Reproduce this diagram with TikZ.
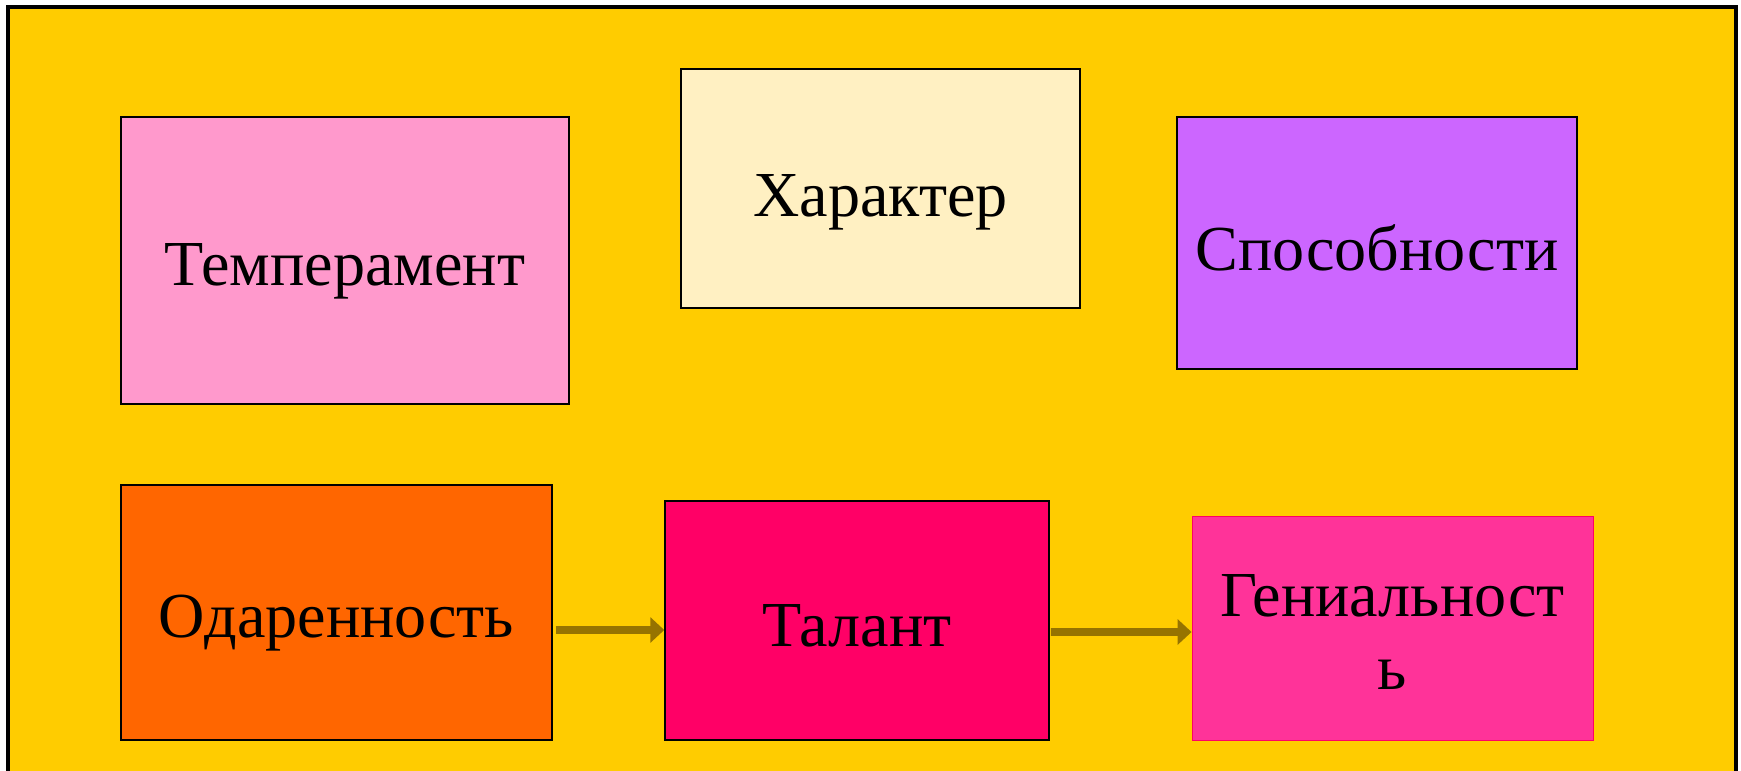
\documentclass[tikz,border=0pt]{standalone}
\usepackage{fontspec}
\setmainfont{Liberation Serif}
\usetikzlibrary{arrows.meta}
\definecolor{bgyellow}{HTML}{FFCC00}
\definecolor{temppink}{HTML}{FF99CC}
\definecolor{charcream}{HTML}{FFF0C2}
\definecolor{sposviolet}{HTML}{CC66FF}
\definecolor{odarorange}{HTML}{FF6600}
\definecolor{talantred}{HTML}{FF0066}
\definecolor{genpink}{HTML}{FF3399}
\definecolor{arrowolive}{HTML}{967300}
\begin{document}
\begin{tikzpicture}[every label/.append style={font=\fontsize{36.5}{41}\selectfont, align=center},
    box/.style={rectangle, draw=black, line width=0.85pt, inner sep=0pt},
    arr/.style={draw=arrowolive, line width=4.5pt, -{Triangle[length=0.28cm, width=0.5cm]}}]

    \useasboundingbox (0,0) rectangle (34.82,-15.42);
    \fill[bgyellow] (0.16,-0.14) rectangle (34.72,-16);
    \draw[line width=1.8pt] (0.16,-16) -- (0.16,-0.14) -- (34.72,-0.14) -- (34.72,-16);

    \node(box-temp)[box, fill=temppink, minimum width=8.96cm, minimum height=5.74cm,
      label={[yshift=-0.22cm]center:Темперамент}] at (6.90,-5.21) {};
    \node(box-char)[box, fill=charcream, minimum width=7.98cm, minimum height=4.78cm,
      label={[yshift=-0.27cm]center:Характер}] at (17.61,-3.77) {};
    \node(box-spos)[box, fill=sposviolet, minimum width=8.00cm, minimum height=5.04cm,
      label={[yshift=-0.09cm]center:Способности}] at (27.54,-4.86) {};

    \node(box-odar)[box, fill=odarorange, minimum width=8.62cm, minimum height=5.10cm,
      label={[yshift=-0.22cm]center:Одаренность}] at (6.73,-12.25) {};
    \node(box-talant)[box, fill=talantred, minimum width=7.68cm, minimum height=4.78cm,
      label={[yshift=-0.11cm]center:Талант}] at (17.14,-12.41) {};
    \node(box-gen)[box, draw=talantred, line width=0.5pt, fill=genpink, minimum width=8.02cm, minimum height=4.48cm,
      label={[yshift=-0.08cm]center:{Гениальност\\ь}}] at (27.85,-12.56) {};

    \draw[arr] ([xshift=0.06cm, yshift=-0.35cm]box-odar.east) -- ([yshift=-0.19cm]box-talant.west);
    \draw[arr] ([xshift=0.02cm, yshift=-0.23cm]box-talant.east) -- ([yshift=-0.08cm]box-gen.west);
  \end{tikzpicture}
\end{document}
